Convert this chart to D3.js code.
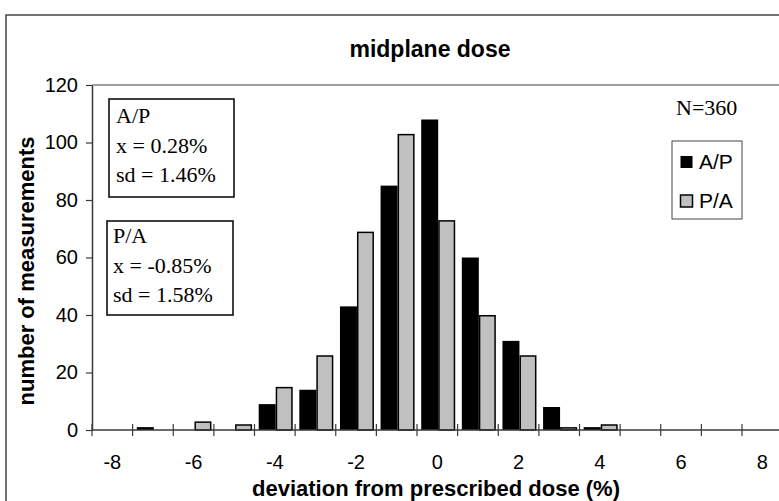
<!DOCTYPE html>
<html>
<head>
<meta charset="utf-8">
<script src="https://cdn.jsdelivr.net/npm/d3@7/dist/d3.min.js"></script>
<style>
  html, body { margin: 0; padding: 0; background: #fff; }
  svg { display: block; }
</style>
</head>
<body>
<svg id="chart" width="779" height="501"></svg>
<script>
// Deviation categories (% from prescribed dose)
const categories = [-8, -7, -6, -5, -4, -3, -2, -1, 0, 1, 2, 3, 4, 5, 6, 7, 8];
// Number of measurements per category
const apCounts = [0, 1, 0, 0, 9, 14, 43, 85, 108, 60, 31, 8, 1, 0, 0, 0, 0];
const paCounts = [0, 0, 3, 2, 15, 26, 69, 103, 73, 40, 26, 1, 2, 0, 0, 0, 0];
const seriesNames = ["A/P", "P/A"];
const yTicks = [0, 20, 40, 60, 80, 100, 120];
const xLabelValues = [-8, -6, -4, -2, 0, 2, 4, 6, 8];
const apStats = ["A/P", "x = 0.28%", "sd = 1.46%"];
const paStats = ["P/A", "x = -0.85%", "sd = 1.58%"];

(function () {
  const svg = d3.select("#chart");
  const sans = "'Liberation Sans', Arial, sans-serif";
  const serif = "'Liberation Serif', 'Times New Roman', serif";
  const axisColor = "#3a3a3a";

  const plotLeft = 92, plotTop = 85, plotBottom = 430;
  const step = 40.625;
  const plotRight = plotLeft + step * categories.length;

  // Outer chart frame
  svg.append("path")
    .attr("d", "M6,520 L6,15 L800,15")
    .attr("fill", "none").attr("stroke", "#444").attr("stroke-width", 1.5);

  // Plot area top edge
  svg.append("line")
    .attr("x1", plotLeft).attr("x2", 800).attr("y1", plotTop).attr("y2", plotTop)
    .attr("stroke", "#808080").attr("stroke-width", 1.5);

  const x = d3.scaleBand().domain(categories).range([plotLeft, plotRight]).padding(0);
  const sub = d3.scaleBand().domain(seriesNames).range([4.2, 4.2 + 34]);
  const y = d3.scaleLinear().domain([0, 120]).range([plotBottom, plotTop]);

  const series = [
    { name: "A/P", values: apCounts, fill: "#000", outlined: false },
    { name: "P/A", values: paCounts, fill: "#c0c0c0", outlined: true }
  ];

  // Bars (outlined bars are inset by half the stroke width)
  series.forEach(s => {
    const rows = categories.map((c, i) => ({ c, v: s.values[i] })).filter(d => d.v > 0);
    const inset = s.outlined ? 0.75 : 0;
    svg.append("g").selectAll("rect").data(rows).join("rect")
      .attr("x", d => x(d.c) + sub(s.name) + inset)
      .attr("y", d => y(d.v) + inset)
      .attr("width", sub.bandwidth() - 2 * inset)
      .attr("height", d => Math.max(0, plotBottom - y(d.v) - inset))
      .attr("fill", s.fill)
      .attr("stroke", s.outlined ? "#000" : "none")
      .attr("stroke-width", 1.5);
  });

  // Y axis
  const yAxis = svg.append("g")
    .attr("transform", `translate(${plotLeft},0)`)
    .call(d3.axisLeft(y).tickValues(yTicks).tickSize(6).tickPadding(8).tickSizeOuter(0));
  yAxis.select(".domain").attr("stroke", axisColor).attr("stroke-width", 1.5);
  yAxis.selectAll(".tick line").attr("stroke", axisColor).attr("stroke-width", 1.2);
  yAxis.selectAll("text").attr("font-family", sans).attr("font-size", 20).attr("fill", "#000");

  // X axis: tick marks between categories
  const xEdges = d3.scaleLinear().domain([-8.5, 8.5]).range([plotLeft, plotRight]);
  const edgeTicks = d3.range(-8.5, 9, 1);
  svg.append("line")
    .attr("x1", plotLeft).attr("x2", 800).attr("y1", plotBottom).attr("y2", plotBottom)
    .attr("stroke", axisColor).attr("stroke-width", 1.5);
  svg.append("g").selectAll("line").data(edgeTicks).join("line")
    .attr("x1", d => xEdges(d)).attr("x2", d => xEdges(d))
    .attr("y1", plotBottom - 6).attr("y2", plotBottom + 6)
    .attr("stroke", axisColor).attr("stroke-width", 1.2);

  // X axis labels at category centres
  const xAxis = svg.append("g")
    .attr("transform", `translate(0,${plotBottom})`)
    .call(d3.axisBottom(x).tickValues(xLabelValues).tickSize(0).tickPadding(25));
  xAxis.select(".domain").remove();
  xAxis.selectAll("text").attr("font-family", sans).attr("font-size", 20).attr("fill", "#000");

  // Title
  svg.append("text")
    .attr("x", 430).attr("y", 57).attr("text-anchor", "middle")
    .attr("font-family", sans).attr("font-weight", "bold").attr("font-size", 23)
    .text("midplane dose");

  // Axis titles
  svg.append("text")
    .attr("x", 436).attr("y", 496).attr("text-anchor", "middle")
    .attr("font-family", sans).attr("font-weight", "bold").attr("font-size", 22)
    .text("deviation from prescribed dose (%)");
  svg.append("text")
    .attr("transform", "translate(34,271) rotate(-90)")
    .attr("text-anchor", "middle")
    .attr("font-family", sans).attr("font-weight", "bold").attr("font-size", 22)
    .text("number of measurements");

  // Statistics boxes
  function statBox(lines, bx, by, bw, bh, tx, ty0) {
    svg.append("rect")
      .attr("x", bx).attr("y", by).attr("width", bw).attr("height", bh)
      .attr("fill", "#fff").attr("stroke", "#000").attr("stroke-width", 1.5);
    svg.append("g").selectAll("text").data(lines).join("text")
      .attr("x", tx).attr("y", (d, i) => ty0 + i * 29.5)
      .attr("font-family", serif).attr("font-size", 22)
      .text(d => d);
  }
  statBox(apStats, 109, 99, 125, 98, 116, 123);
  statBox(paStats, 107, 221, 126, 94, 113, 243);

  // Sample size
  svg.append("text")
    .attr("x", 676).attr("y", 115)
    .attr("font-family", serif).attr("font-size", 22)
    .text("N=360");

  // Legend
  const legend = svg.append("g");
  legend.append("rect")
    .attr("x", 672).attr("y", 141).attr("width", 70).attr("height", 78)
    .attr("fill", "#fff").attr("stroke", "#444").attr("stroke-width", 1);
  series.forEach((s, i) => {
    const ly = 156 + i * 39;
    legend.append("rect")
      .attr("x", 680.5).attr("y", ly).attr("width", 12).attr("height", 12)
      .attr("fill", s.fill).attr("stroke", "#000").attr("stroke-width", s.outlined ? 1.5 : 0);
    legend.append("text")
      .attr("x", 699).attr("y", ly + 13)
      .attr("font-family", sans).attr("font-size", 21)
      .text(s.name);
  });
})();
</script>
</body>
</html>
